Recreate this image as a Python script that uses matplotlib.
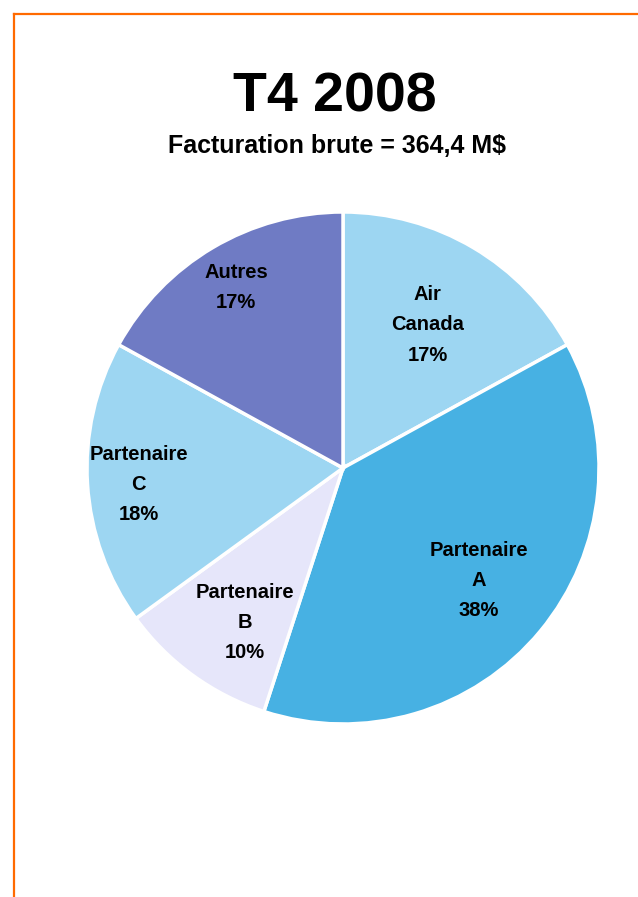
import matplotlib
matplotlib.use("Agg")
import matplotlib.pyplot as plt
import numpy as np

plt.rcParams['font.family'] = ['Liberation Sans', 'DejaVu Sans']

categories = ["Air\nCanada", "Partenaire\nA", "Partenaire\nB", "Partenaire\nC", "Autres"]
values = [17, 38, 10, 18, 17]
colors = ["#9DD6F2", "#47B1E3", "#E6E6FA", "#9DD6F2", "#6F7BC4"]
label_dist = [0.65, 0.69, 0.715, 0.80, 0.82]
label_ang_shift = [0.0, 0.0, 3.6, 1.0, 0.0]

title = "T4 2008"
subtitle = "Facturation brute = 364,4 M$"

fig = plt.figure(figsize=(6.38, 8.97), dpi=100)
W, H = 638, 897

# orange frame lines (top and left)
fig.add_artist(plt.Line2D([13.5 / W, 1], [1 - 14 / H, 1 - 14 / H], color="#FF6A00", lw=1.6,
                          transform=fig.transFigure))
fig.add_artist(plt.Line2D([13.5 / W, 13.5 / W], [0, 1 - 14 / H], color="#FF6A00", lw=1.6,
                          transform=fig.transFigure))

fig.text(335 / W, 1 - 97 / H, title, ha="center", va="center", fontsize=40, fontweight="bold")
fig.text(337.5 / W, 1 - 146 / H, subtitle, ha="center", va="center", fontsize=18, fontweight="bold")

r = 256
cx, cy = 343, 468
ax = fig.add_axes([(cx - r) / W, 1 - (cy + r) / H, 2 * r / W, 2 * r / H])
wedges, _ = ax.pie(values, colors=colors, startangle=90, counterclock=False,
                   wedgeprops=dict(edgecolor="white", linewidth=2.5), radius=1)
ax.set_xlim(-1, 1)
ax.set_ylim(-1, 1)
ax.set_aspect("equal")
ax.axis("off")

for w, cat, v, d, s in zip(wedges, categories, values, label_dist, label_ang_shift):
    ang = np.deg2rad((w.theta1 + w.theta2) / 2 + s)
    ax.text(d * np.cos(ang), d * np.sin(ang), f"{cat}\n{v}%", ha="center", va="center",
            fontsize=14.5, fontweight="bold", linespacing=1.75)

fig.savefig("out.png", dpi=100)
